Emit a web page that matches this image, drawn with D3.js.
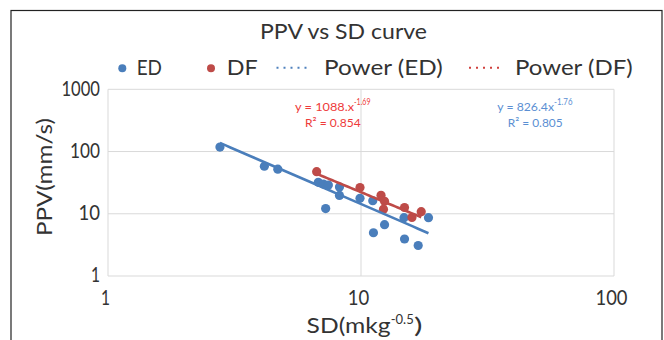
<!DOCTYPE html>
<html><head><meta charset="utf-8">
<script src="https://cdn.jsdelivr.net/npm/d3@7"></script>
<style>html,body{margin:0;padding:0;background:#fff;}svg{display:block;}</style>
</head><body>
<svg id="c" width="664" height="340"></svg>
<script>
// ---- data ----
const edX = [2.77, 4.15, 4.69, 6.78, 7.10, 7.43, 7.25, 8.22, 8.22, 9.91, 11.13, 14.79, 18.48, 11.2, 12.39, 14.86, 16.83];
const edY = [118, 58, 52, 32, 30, 29, 12.1, 26.9, 19.7, 17.7, 16.2, 8.65, 8.65, 4.95, 6.67, 3.93, 3.09];
const dfX = [6.68, 9.91, 12.0, 12.39, 12.27, 14.86, 15.9, 17.3];
const dfY = [47.4, 26.4, 19.8, 15.9, 11.8, 12.6, 8.71, 10.8];
const edFit = [826.4, -1.76];   // a, b of y = a x^b
const dfFit = [1088, -1.69];
const xTicks = [1, 10, 100];
const yTicks = [1, 10, 100, 1000];
const legendLabels = ["ED", "DF", "Power (ED)", "Power (DF)"];

const BLUE = "#4a7ebb", RED = "#be4b48";
const FONT = "Lato, 'Open Sans', sans-serif";
const INK = "#333333";
const svg = d3.select("#c");

const x = d3.scaleLog().domain([1, 100]).range([108, 614]);
const y = d3.scaleLog().domain([1, 1000]).range([276, 89.3]);

// outer border
svg.append("rect").attr("x", 11).attr("y", 10.5).attr("width", 651).attr("height", 345)
  .attr("fill", "#fff").attr("stroke", "#222").attr("stroke-width", 1.2);

function txt(s, xx, yy, size, len, opts = {}) {
  const t = svg.append("text").attr("x", xx).attr("y", yy)
    .attr("font-family", FONT).attr("font-size", size)
    .attr("fill", opts.fill || INK).text(s);
  if (len) t.attr("textLength", len).attr("lengthAdjust", "spacingAndGlyphs");
  if (opts.anchor) t.attr("text-anchor", opts.anchor);
  if (opts.transform) t.attr("transform", opts.transform);
  return t;
}

// gridlines
const grid = svg.append("g").attr("stroke", "#d9d9d9").attr("stroke-width", 1);
yTicks.forEach(v => grid.append("line").attr("x1", x(1)).attr("x2", x(100)).attr("y1", y(v)).attr("y2", y(v)));
xTicks.forEach(v => grid.append("line").attr("x1", x(v)).attr("x2", x(v)).attr("y1", y(1)).attr("y2", y(1000)));

// axes via d3 axis (labels only)
const yAx = svg.append("g").attr("transform", `translate(${x(1) - 8},0)`)
  .call(d3.axisLeft(y).tickValues(yTicks).tickSize(0).tickFormat(d3.format("d")));
yAx.select(".domain").remove();
yAx.selectAll("text").attr("font-family", FONT).attr("font-size", 22).attr("fill", INK)
  .attr("dy", "0.26em").attr("x", 0)
  .attr("textLength", d => ({1: 9, 10: 21.5, 100: 30, 1000: 38.5})[d])
  .attr("lengthAdjust", "spacingAndGlyphs");

const xAx = svg.append("g").attr("transform", `translate(-3,${y(1) + 29})`)
  .call(d3.axisBottom(x).tickValues(xTicks).tickSize(0).tickFormat(d3.format("d")));
xAx.select(".domain").remove();
xAx.selectAll("text").attr("font-family", FONT).attr("font-size", 22).attr("fill", INK)
  .attr("dy", 0).attr("y", 0)
  .attr("textLength", d => ({1: 9, 10: 21.5, 100: 32})[d])
  .attr("lengthAdjust", "spacingAndGlyphs");

// title
txt("PPV vs SD curve", 260, 39.3, 21, 167);

// axis titles
txt("SD(mkg", 306.6, 333, 21, 84);
txt("-0.5", 390.7, 324, 12.5, 23);
txt(")", 414, 333, 21, 8.5);
txt("PPV(mm/s)", 0, 0, 21, 118, {anchor: "middle", transform: "translate(52,177) rotate(-90)"});

// legend
svg.append("circle").attr("cx", 122.3).attr("cy", 68.3).attr("r", 4).attr("fill", BLUE);
svg.append("circle").attr("cx", 211).attr("cy", 68.3).attr("r", 4).attr("fill", RED);
svg.append("line").attr("x1", 276.5).attr("x2", 311).attr("y1", 67.7).attr("y2", 67.7)
  .attr("stroke", "#4f81bd").attr("stroke-width", 2).attr("stroke-dasharray", "2,5");
svg.append("line").attr("x1", 469).attr("x2", 504).attr("y1", 67.7).attr("y2", 67.7)
  .attr("stroke", "#d0403d").attr("stroke-width", 2).attr("stroke-dasharray", "2,5");
txt(legendLabels[0], 136.7, 75, 21, 25.3);
txt(legendLabels[1], 226.7, 75, 21, 31);
txt(legendLabels[2], 324, 75, 21, 118.7);
txt(legendLabels[3], 515, 75, 21, 117.7);

// markers
const ed = edX.map((v, i) => [v, edY[i]]);
const df = dfX.map((v, i) => [v, dfY[i]]);
svg.append("g").selectAll("circle").data(ed).join("circle")
  .attr("cx", d => x(d[0])).attr("cy", d => y(d[1])).attr("r", 4.6).attr("fill", BLUE);
svg.append("g").selectAll("circle").data(df).join("circle")
  .attr("cx", d => x(d[0])).attr("cy", d => y(d[1])).attr("r", 4.6).attr("fill", RED);

// trendlines
function trend(xs, fit, color) {
  const [lo, hi] = d3.extent(xs);
  const pts = d3.range(0, 41).map(i => {
    const xv = lo * Math.pow(hi / lo, i / 40);
    return [xv, fit[0] * Math.pow(xv, fit[1])];
  });
  svg.append("path").attr("d", d3.line().x(d => x(d[0])).y(d => y(d[1]))(pts))
    .attr("fill", "none").attr("stroke", color).attr("stroke-width", 2.6);
}
trend(edX, edFit, BLUE);
trend(dfX, dfFit, RED);

// equations
const RT = "#ee3a3a", BT = "#5b8fd3";
txt("y = " + dfFit[0] + ".x", 295, 110.7, 12, 59, {fill: RT});
txt(String(dfFit[1]), 354, 104.5, 8.5, 16.5, {fill: RT});
txt("R² = 0.854", 305, 127.3, 12, 55.7, {fill: RT});
txt("y = " + edFit[0] + "x", 497.3, 110.7, 12, 56.7, {fill: BT});
txt(String(edFit[1]), 554, 104.5, 8.5, 18.5, {fill: BT});
txt("R² = 0.805", 507.7, 127.3, 12, 55, {fill: BT});
</script>
</body></html>
